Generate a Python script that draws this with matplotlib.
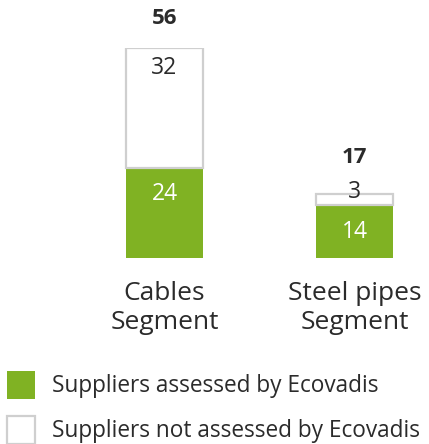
import matplotlib
matplotlib.use("Agg")
import matplotlib.pyplot as plt
from matplotlib.patches import Rectangle

categories = ["Cables\nSegment", "Steel pipes\nSegment"]
assessed = [24, 14]
not_assessed = [32, 3]
totals = [56, 17]
legend_labels = ["Suppliers assessed by Ecovadis", "Suppliers not assessed by Ecovadis"]

GREEN = "#80B223"
EDGE = "#cfcfcf"
TEXT = "#2b2b2b"
FONT = "Open Sans"

W, H = 429, 444
fig = plt.figure(figsize=(W / 100, H / 100), dpi=100)

# axes frame: baseline 258 px from top, 3.75 px per supplier
base_px = 258
scale = 3.75
ymax = 56
ax = fig.add_axes([0, (H - base_px) / H, 1, ymax * scale / H])
ax.set_ylim(0, ymax)
ax.set_xlim(-164.5 / 190, (W - 164.5) / 190)
ax.axis("off")

x = list(range(len(categories)))
width = 77 / 190
ax.bar(x, assessed, width=width, color=GREEN, linewidth=0)
ax.bar(x, not_assessed, width=width, bottom=assessed, facecolor="white",
       edgecolor=EDGE, linewidth=1.6)

total_gap = [30, 37]  # px between stack top and total label centre
for i in x:
    ax.text(i, totals[i] + total_gap[i] / scale, str(totals[i]),
            ha="center", va="center", fontsize=16, fontweight="bold",
            color=TEXT, family=FONT, clip_on=False)
    ax.text(i, assessed[i] - 26 / scale, str(assessed[i]), ha="center", va="center",
            fontsize=16.5, color="white", family=FONT)
    if not_assessed[i] > 6:
        ny = assessed[i] + not_assessed[i] - 20 / scale
    else:
        ny = assessed[i] + not_assessed[i] + 2 / scale
    ax.text(i, ny, str(not_assessed[i]), ha="center", va="center",
            fontsize=16.5, color=TEXT, family=FONT, clip_on=False)
    ax.text(i, -50 / scale, categories[i], ha="center", va="center",
            fontsize=19, color=TEXT, family=FONT, linespacing=1.18, clip_on=False)

# legend
items = [(GREEN, "none"), ("white", EDGE)]
for k, ((fc, ec), lab) in enumerate(zip(items, legend_labels)):
    top = 371 + k * 45
    fig.add_artist(Rectangle((7 / W, 1 - (top + 28) / H), 28 / W, 28 / H,
                             transform=fig.transFigure, facecolor=fc,
                             edgecolor=ec, linewidth=1.6))
    fig.text(52 / W, 1 - (top + 15) / H, lab, ha="left", va="center",
             fontsize=16.3, color=TEXT, family=FONT)

fig.savefig("out.png", dpi=100, facecolor="white")
